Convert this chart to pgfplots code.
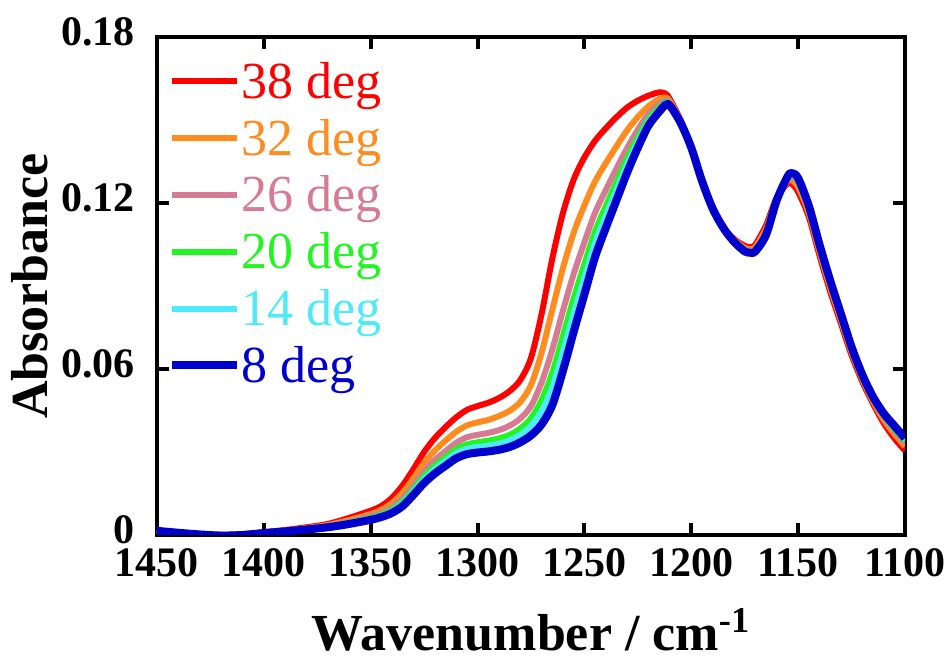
\documentclass[border=0pt]{standalone}
\usepackage{fontspec}
\setmainfont{Liberation Serif}
\usepackage{pgfplots}
\pgfplotsset{compat=1.18}
\usepackage{pgfplotstable}

\definecolor{c38}{RGB}{255,0,0}
\definecolor{c32}{RGB}{255,140,30}
\definecolor{c26}{RGB}{214,123,148}
\definecolor{c20}{RGB}{34,245,34}
\definecolor{c14}{RGB}{77,235,250}
\definecolor{c8}{RGB}{0,0,204}

\pgfplotstableread{
wn    r       o       p       g       c       b
1450  0.0015  0.0015  0.0015  0.0015  0.0015  0.0015
1440  0.0008  0.0008  0.0008  0.0008  0.0008  0.0008
1430  0.0002  0.0002  0.0002  0.0002  0.0002  0.0002
1420  0.0000 -0.0001 -0.0001 -0.0002 -0.0002 -0.0002
1410  0.0003  0.0002  0.0001  0.0001  0.0000  0.0000
1400  0.0010  0.0009  0.0008  0.0008  0.0007  0.0007
1390  0.0018  0.0016  0.0015  0.0014  0.0014  0.0013
1380  0.0028  0.0025  0.0023  0.0022  0.0021  0.0020
1370  0.0040  0.0036  0.0033  0.0031  0.0029  0.0028
1360  0.0062  0.0054  0.0048  0.0045  0.0043  0.0040
1350  0.0088  0.0076  0.0068  0.0062  0.0059  0.0055
1345  0.0105  0.0091  0.0080  0.0074  0.0070  0.0065
1340  0.0135  0.0116  0.0101  0.0092  0.0087  0.0080
1335  0.0180  0.0154  0.0134  0.0122  0.0114  0.0105
1330  0.0238  0.0205  0.0180  0.0165  0.0156  0.0145
1325  0.0300  0.0261  0.0231  0.0213  0.0201  0.0188
1320  0.0350  0.0305  0.0271  0.0250  0.0237  0.0222
1315  0.0390  0.0341  0.0303  0.0281  0.0267  0.0250
1310  0.0425  0.0373  0.0333  0.0310  0.0295  0.0277
1305  0.0452  0.0396  0.0353  0.0327  0.0311  0.0292
1300  0.0466  0.0407  0.0362  0.0335  0.0318  0.0298
1295  0.0478  0.0416  0.0369  0.0341  0.0323  0.0302
1290  0.0495  0.0430  0.0379  0.0349  0.0330  0.0308
1285  0.0520  0.0449  0.0395  0.0362  0.0342  0.0318
1280  0.0560  0.0481  0.0421  0.0385  0.0362  0.0335
1275  0.0640  0.0542  0.0466  0.0422  0.0394  0.0360
1270  0.0800  0.0660  0.0552  0.0488  0.0448  0.0400
1265  0.1000  0.0815  0.0671  0.0587  0.0534  0.0470
1260  0.1165  0.0966  0.0812  0.0720  0.0663  0.0595
1255  0.1285  0.1093  0.0944  0.0856  0.0801  0.0735
1250  0.1365  0.1192  0.1058  0.0979  0.0929  0.0870
1245  0.1425  0.1278  0.1165  0.1097  0.1055  0.1005
1240  0.1470  0.1344  0.1247  0.1189  0.1153  0.1110
1235  0.1510  0.1405  0.1324  0.1276  0.1246  0.1210
1230  0.1545  0.1463  0.1399  0.1362  0.1338  0.1310
1225  0.1570  0.1511  0.1465  0.1437  0.1420  0.1400
1220  0.1588  0.1550  0.1521  0.1504  0.1493  0.1480
1215  0.1600  0.1576  0.1557  0.1545  0.1538  0.1530
1212  0.1595  0.1581  0.1570  0.1564  0.1560  0.1555
1210  0.1575  0.1567  0.1561  0.1557  0.1555  0.1552
1205  0.1500  0.1497  0.1494  0.1492  0.1491  0.1490
1200  0.1400  0.1400  0.1400  0.1400  0.1400  0.1400
1195  0.1280  0.1280  0.1280  0.1280  0.1280  0.1280
1190  0.1180  0.1180  0.1180  0.1180  0.1180  0.1180
1185  0.1110  0.1110  0.1110  0.1110  0.1110  0.1110
1180  0.1070  0.1067  0.1064  0.1062  0.1061  0.1060
1175  0.1045  0.1038  0.1033  0.1029  0.1027  0.1025
1172  0.1040  0.1033  0.1028  0.1024  0.1022  0.1020
1170  0.1050  0.1041  0.1035  0.1031  0.1028  0.1025
1165  0.1120  0.1108  0.1098  0.1093  0.1089  0.1085
1160  0.1220  0.1217  0.1214  0.1212  0.1211  0.1210
1155  0.1270  0.1279  0.1286  0.1290  0.1292  0.1295
1153  0.1270  0.1283  0.1294  0.1300  0.1303  0.1308
1150  0.1240  0.1258  0.1271  0.1279  0.1284  0.1290
1145  0.1150  0.1164  0.1175  0.1181  0.1185  0.1190
1140  0.1010  0.1024  0.1035  0.1041  0.1045  0.1050
1135  0.0880  0.0894  0.0905  0.0911  0.0915  0.0920
1130  0.0765  0.0777  0.0787  0.0792  0.0796  0.0800
1125  0.0650  0.0661  0.0669  0.0673  0.0676  0.0680
1120  0.0555  0.0564  0.0571  0.0575  0.0577  0.0580
1115  0.0475  0.0484  0.0491  0.0495  0.0497  0.0500
1110  0.0405  0.0417  0.0427  0.0432  0.0436  0.0440
1105  0.0350  0.0366  0.0378  0.0385  0.0390  0.0395
1100  0.0305  0.0321  0.0333  0.0340  0.0345  0.0350
}\spectra

\begin{document}
\begin{tikzpicture}
\path[use as bounding box] (-78.5pt,-61pt) rectangle (396pt,267.5pt);
\begin{axis}[
  at={(0pt,0pt)}, anchor=south west,
  scale only axis, width=374pt, height=249pt,
  x dir=reverse, xmin=1100, xmax=1450, ymin=0, ymax=0.18,
  xtick={1100,1150,1200,1250,1300,1350,1400,1450},
  xticklabels={1100,1150,1200,1250,1300,1350,1400,1450},
  ytick={0,0.06,0.12,0.18},
  yticklabels={0,0.06,0.12,0.18},
  tick align=inside, major tick length=6pt,
  every tick/.style={black, line width=2pt},
  axis line style={line width=2.2pt},
  xticklabel style={font=\bfseries\fontsize{21}{23}\selectfont, anchor=north, inner sep=0pt, yshift=-6.5pt},
  yticklabel style={font=\bfseries\fontsize{21}{23}\selectfont, anchor=east, inner sep=0pt, xshift=-11pt, yshift=2.5pt},
  xlabel={Wavenumber / cm\textsuperscript{-1}},
  ylabel={Absorbance},
  xlabel style={font=\bfseries\fontsize{26}{28}\selectfont, at={(axis description cs:0.5,0)}, anchor=base, yshift=-58pt},
  ylabel style={font=\bfseries\fontsize{26}{28}\selectfont, at={(axis description cs:0,0.5)}, anchor=base, yshift=54.5pt},
  legend cell align=left,
  legend image code/.code={\draw[#1] (0pt,3pt) -- (32.5pt,3pt);},
  legend style={draw=none, fill=none, at={(axis description cs:0,1)}, anchor=north west,
    xshift=5.5pt, yshift=-13.5pt, inner sep=0pt, row sep=5.4pt, column sep=0pt,
    font=\fontsize{26}{28}\selectfont,
    nodes={inner sep=0pt, text height=17pt, text depth=6pt}},
  clip=true,
]
\addplot[c38, line width=3pt, smooth, line join=round] table[x=wn,y=r]{\spectra};
\addlegendentry{\textcolor{c38}{38 deg}}
\addplot[c32, line width=3pt, smooth, line join=round] table[x=wn,y=o]{\spectra};
\addlegendentry{\textcolor{c32}{32 deg}}
\addplot[c26, line width=3pt, smooth, line join=round] table[x=wn,y=p]{\spectra};
\addlegendentry{\textcolor{c26}{26 deg}}
\addplot[c20, line width=3pt, smooth, line join=round] table[x=wn,y=g]{\spectra};
\addlegendentry{\textcolor{c20}{20 deg}}
\addplot[c14, line width=3pt, smooth, line join=round] table[x=wn,y=c]{\spectra};
\addlegendentry{\textcolor{c14}{14 deg}}
\addplot[c8, line width=4pt, smooth, line join=round] table[x=wn,y=b]{\spectra};
\addlegendentry{\textcolor{c8}{8 deg}}
\end{axis}
\end{tikzpicture}
\end{document}
